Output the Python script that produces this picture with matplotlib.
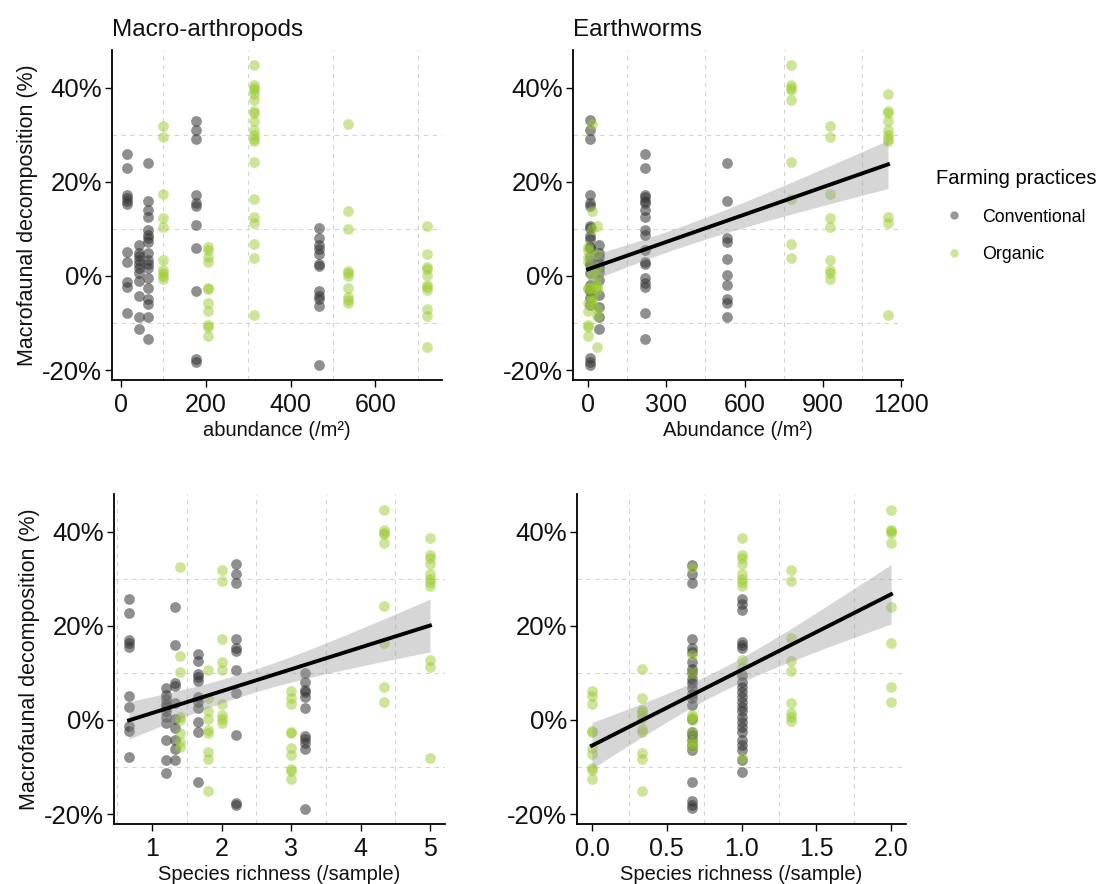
import numpy as np
import matplotlib
matplotlib.use("Agg")
import matplotlib.pyplot as plt
from matplotlib.ticker import FuncFormatter, FixedLocator
from matplotlib.lines import Line2D

plt.rcParams['font.family'] = ['Liberation Sans', 'DejaVu Sans']

# ---------------- data (y = macrofaunal decomposition, %) ----------------
# Panel 1: macro-arthropod abundance (/m2)
arth_abund_conv = {
    14: [25.9, 22.9, 17.1, 16.5, 16.0, 15.2, 5.1, 2.9, -1.3, -2.3, -7.8],
    43: [6.5, 4.8, 4.3, 3.4, 2.6, 1.6, 0.6, -1.0, -4.2, -8.7, -11.3],
    63: [24.0, 16.0, 14.0, 12.5, 9.8, 8.7, 8.0, 7.3, 4.8, 3.4, 2.6, 1.6, -0.5, -2.6, -4.8, -6.0, -8.7, -13.4],
    178: [33.0, 31.1, 29.1, 17.2, 15.5, 14.8, 10.8, 5.9, -3.3, -17.7, -18.2],
    467: [10.1, 8.0, 6.5, 5.7, 4.6, 2.5, 2.2, -3.3, -4.3, -4.8, -6.4, -18.9],
}
arth_abund_org = {
    100: [31.9, 29.5, 17.4, 12.4, 10.5, 3.4, 1.3, 0.6, -0.1, -0.7],
    206: [6.2, 5.5, 4.1, 3.0, -2.6, -2.8, -5.8, -7.4, -10.4, -10.9, -12.7],
    314: [44.8, 40.5, 39.9, 39.4, 38.7, 37.4, 35.0, 34.6, 33.0, 30.9, 30.0, 29.1, 28.6, 24.2, 16.3, 12.6, 11.2, 6.8, 3.9, -8.3],
    535: [32.3, 13.7, 10.0, 1.1, 0.6, 0.0, -2.6, -4.4, -5.0, -5.7],
    722: [10.7, 4.7, 2.0, 1.5, 0.2, -1.9, -2.4, -3.0, -7.1, -8.5, -15.0],
}

# Panel 2: earthworm abundance (/m2)
ew_abund_conv = {
    8: [33.2, 31.1, 29.1, 17.2, 15.5, 14.9, 10.6, 10.1, 8.4, 7.8, 6.2, 5.9, 4.1, 2.7, 2.3, 0.6, -1.9, -3.0, -3.3, -4.7, -6.2, -17.5, -18.2, -18.9],
    44: [6.6, 4.8, 4.1, 2.7, 2.0, 0.9, -0.9, -4.0, -6.5, -8.7, -11.3],
    217: [25.9, 22.9, 17.2, 16.7, 16.0, 15.5, 14.0, 12.6, 9.8, 8.7, 5.5, 3.0, 2.6, -0.5, -1.4, -2.4, -7.8, -13.3],
    534: [24.0, 16.0, 8.0, 7.3, 3.5, 0.2, -1.9, -4.8, -5.8, -8.7],
}
ew_abund_org = {
    0: [6.2, 5.5, 4.1, 3.0, -2.6, -2.8, -5.8, -7.4, -10.4, -10.9, -12.7],
    17: [32.3, 13.7, 10.0, 1.1, 0.6, 0.0, -2.6, -4.4, -5.0, -5.7],
    33: [10.7, 4.7, 2.0, 1.5, 0.2, -1.9, -2.4, -3.0, -7.1, -8.5, -15.0],
    779: [44.8, 40.5, 39.9, 39.4, 37.4, 24.2, 16.3, 6.8, 3.9],
    928: [31.9, 29.5, 17.4, 12.4, 10.5, 3.4, 1.3, 0.6, -0.7],
    1150: [38.7, 35.0, 34.6, 33.0, 30.9, 30.0, 29.1, 28.6, 12.6, 11.2, -8.3],
}

# Panel 3: macro-arthropod species richness (/sample)
arth_rich_conv = {
    0.667: [25.8, 22.8, 17.0, 16.3, 15.5, 5.1, 2.8, -1.2, -2.3, -7.8],
    1.2: [6.7, 5.3, 4.4, 3.4, 2.8, 1.8, 0.7, -0.7, -4.2, -8.5, -11.2],
    1.333: [24.0, 16.0, 7.8, 7.2, 3.7, 0.1, -1.8, -4.2, -6.1, -8.5],
    1.667: [14.1, 12.5, 9.8, 9.1, 8.3, 4.9, 3.9, 2.5, -0.5, -2.6, -13.2],
    2.2: [33.1, 31.1, 29.1, 17.2, 15.3, 14.7, 10.7, 5.7, -3.2, -17.7, -18.0],
    3.2: [10.0, 8.1, 6.4, 5.9, 4.8, 2.5, -3.4, -4.1, -4.9, -6.2, -18.9],
}
arth_rich_org = {
    1.4: [32.4, 13.6, 10.1, 0.7, 0.0, -2.8, -4.6, -5.7],
    1.8: [10.7, 4.6, 1.8, 0.1, -2.1, -2.7, -6.9, -8.3, -15.0],
    2.0: [31.8, 29.5, 17.3, 12.4, 10.6, 3.4, 1.1, 0.1, -0.7],
    3.0: [6.2, 4.6, 3.4, -2.5, -2.8, -6.0, -7.4, -10.5, -10.8, -12.6],
    4.333: [44.7, 40.3, 39.8, 39.4, 37.5, 24.2, 16.4, 6.9, 3.9],
    5.0: [38.7, 35.0, 34.5, 33.2, 30.9, 30.0, 29.3, 28.4, 12.7, 11.2, -8.1],
}

# Panel 4: earthworm species richness (/sample)
ew_rich_conv = {
    0.667: [33.0, 31.1, 29.2, 17.3, 15.2, 14.5, 12.4, 10.9, 9.9, 8.8, 7.8, 6.7, 5.6, 4.6, 3.2, 0.3, -2.5, -3.2, -4.2, -5.3, -6.4, -13.1, -17.3, -18.0, -18.8],
    1.0: [25.8, 24.7, 23.3, 16.6, 15.9, 15.2, 9.5, 8.1, 7.1, 6.0, 4.9, 3.9, 2.8, 1.8, 0.7, -0.4, -1.4, -2.5, -4.2, -5.3, -6.4, -8.5, -11.0],
}
ew_rich_org = {
    0.0: [6.2, 5.0, 3.4, -2.3, -2.6, -5.9, -7.3, -10.3, -10.6, -12.6],
    0.333: [10.8, 4.75, 2.1, 1.6, 1.1, 0.5, -1.9, -2.5, -7.1, -8.3, -15.1],
    0.667: [32.3, 13.7, 10.0, 1.1, 0.6, 0.0, -2.6, -4.4, -5.0, -5.7],
    1.0: [38.7, 35.0, 34.5, 33.2, 30.9, 30.0, 29.3, 28.4, 12.7, 11.2, -8.1],
    1.333: [31.9, 29.6, 17.4, 12.6, 10.5, 3.5, 1.4, 0.7, -0.2],
    2.0: [44.7, 40.4, 40.1, 39.7, 37.6, 24.1, 16.3, 6.9, 3.9],
}

panel_titles = ["Macro-arthropods", "Earthworms", "", ""]
x_labels = ["abundance (/m²)", "Abundance (/m²)", "Species richness (/sample)", "Species richness (/sample)"]
x_ticks = [[0, 200, 400, 600], [0, 300, 600, 900, 1200], [1, 2, 3, 4, 5], [0.0, 0.5, 1.0, 1.5, 2.0]]
x_minor = [[100, 300, 500, 700], [150, 450, 750, 1050], [0.5, 1.5, 2.5, 3.5, 4.5], [0.25, 0.75, 1.25, 1.75]]
x_fmt = ["{:.0f}", "{:.0f}", "{:.0f}", "{:.1f}"]
show_fit = [False, True, True, True]
y_ticks = [-20, 0, 20, 40]
y_minor = [-10, 10, 30]
legend_labels = ["Conventional", "Organic"]

COL_CONV = "#333333"
COL_ORG = "#9ACD32"


def flatten(d):
    xs, ys = [], []
    for k, v in d.items():
        xs += [k] * len(v)
        ys += v
    return np.array(xs, float), np.array(ys, float)


W, H = 1102, 884
fig = plt.figure(figsize=(W / 100, H / 100), dpi=100)

# axes rectangles in pixel coordinates (left, top, right, bottom)
rects = [(112, 50, 442, 380), (573, 50, 903, 380), (114, 494, 445, 824), (577, 494, 906, 824)]
panels = [(arth_abund_conv, arth_abund_org), (ew_abund_conv, ew_abund_org),
          (arth_rich_conv, arth_rich_org), (ew_rich_conv, ew_rich_org)]

for i, ((l, t, r, b), (dc, do)) in enumerate(zip(rects, panels)):
    ax = fig.add_axes([l / W, 1 - b / H, (r - l) / W, (b - t) / H])
    xc, yc = flatten(dc)
    xo, yo = flatten(do)
    xall = np.concatenate([xc, xo])
    yall = np.concatenate([yc, yo])

    ax.scatter(xc, yc, s=60, color=COL_CONV, alpha=0.55, linewidths=0, zorder=3)
    ax.scatter(xo, yo, s=60, color=COL_ORG, alpha=0.5, linewidths=0, zorder=3)

    if show_fit[i]:
        n = len(xall)
        A = np.vstack([np.ones(n), xall]).T
        beta, *_ = np.linalg.lstsq(A, yall, rcond=None)
        resid = yall - A @ beta
        sigma = np.sqrt(np.sum(resid ** 2) / (n - 2))
        xbar = xall.mean()
        sxx = np.sum((xall - xbar) ** 2)
        xs = np.linspace(xall.min(), xall.max(), 100)
        fit = beta[0] + beta[1] * xs
        se = sigma * np.sqrt(1 / n + (xs - xbar) ** 2 / sxx)
        tval = 1.96 + 2.4 / (n - 2)
        ax.fill_between(xs, fit - tval * se, fit + tval * se, color="#999999", alpha=0.4, linewidth=0, zorder=4)
        ax.plot(xs, fit, color="black", lw=2.8, zorder=5)

    xr = xall.max() - xall.min()
    ax.set_xlim(xall.min() - 0.05 * xr, xall.max() + 0.05 * xr)
    ax.set_ylim(-22.1, 48.0)

    ax.xaxis.set_major_locator(FixedLocator(x_ticks[i]))
    ax.xaxis.set_minor_locator(FixedLocator(x_minor[i]))
    ax.yaxis.set_major_locator(FixedLocator(y_ticks))
    ax.yaxis.set_minor_locator(FixedLocator(y_minor))
    fmt = x_fmt[i]
    ax.xaxis.set_major_formatter(FuncFormatter(lambda v, p, f=fmt: f.format(v)))
    ax.yaxis.set_major_formatter(FuncFormatter(lambda v, p: "{:d}%".format(int(round(v)))))

    ax.grid(which="minor", color="#d4d4d4", linestyle=(0, (4, 4)), linewidth=0.8, zorder=0)
    ax.grid(which="major", visible=False)
    ax.tick_params(which="minor", length=0)
    ax.tick_params(axis="x", which="major", length=5, width=1.0, color="black", labelsize=18, labelcolor="#111111", pad=4)
    ax.tick_params(axis="y", which="major", length=5, width=1.0, color="black", labelsize=18.5, labelcolor="#111111", pad=2)
    for s in ["top", "right"]:
        ax.spines[s].set_visible(False)
    for s in ["left", "bottom"]:
        ax.spines[s].set_linewidth(1.3)
        ax.spines[s].set_color("black")

    ax.set_xlabel(x_labels[i], fontsize=14.5, labelpad=3, color="#111111")
    if i in (0, 2):
        ax.set_ylabel("Macrofaunal decomposition (%)", fontsize=15.5, labelpad=3, color="#111111")
    if panel_titles[i]:
        ax.set_title(panel_titles[i], fontsize=17.5, loc="left", pad=10, color="#111111")

# legend
handles = [Line2D([], [], marker="o", linestyle="", markersize=6, markerfacecolor=COL_CONV, markeredgewidth=0, alpha=0.5),
           Line2D([], [], marker="o", linestyle="", markersize=6, markerfacecolor=COL_ORG, markeredgewidth=0, alpha=0.5)]
leg = fig.legend(handles, legend_labels, title="Farming practices", loc="upper left",
                 bbox_to_anchor=(929 / W, 1 - 162 / H), frameon=False, fontsize=12.8,
                 title_fontsize=14.5, handletextpad=0.6, labelspacing=1.15, borderaxespad=0)
leg._legend_box.align = "left"

fig.savefig("out.png", dpi=100)
